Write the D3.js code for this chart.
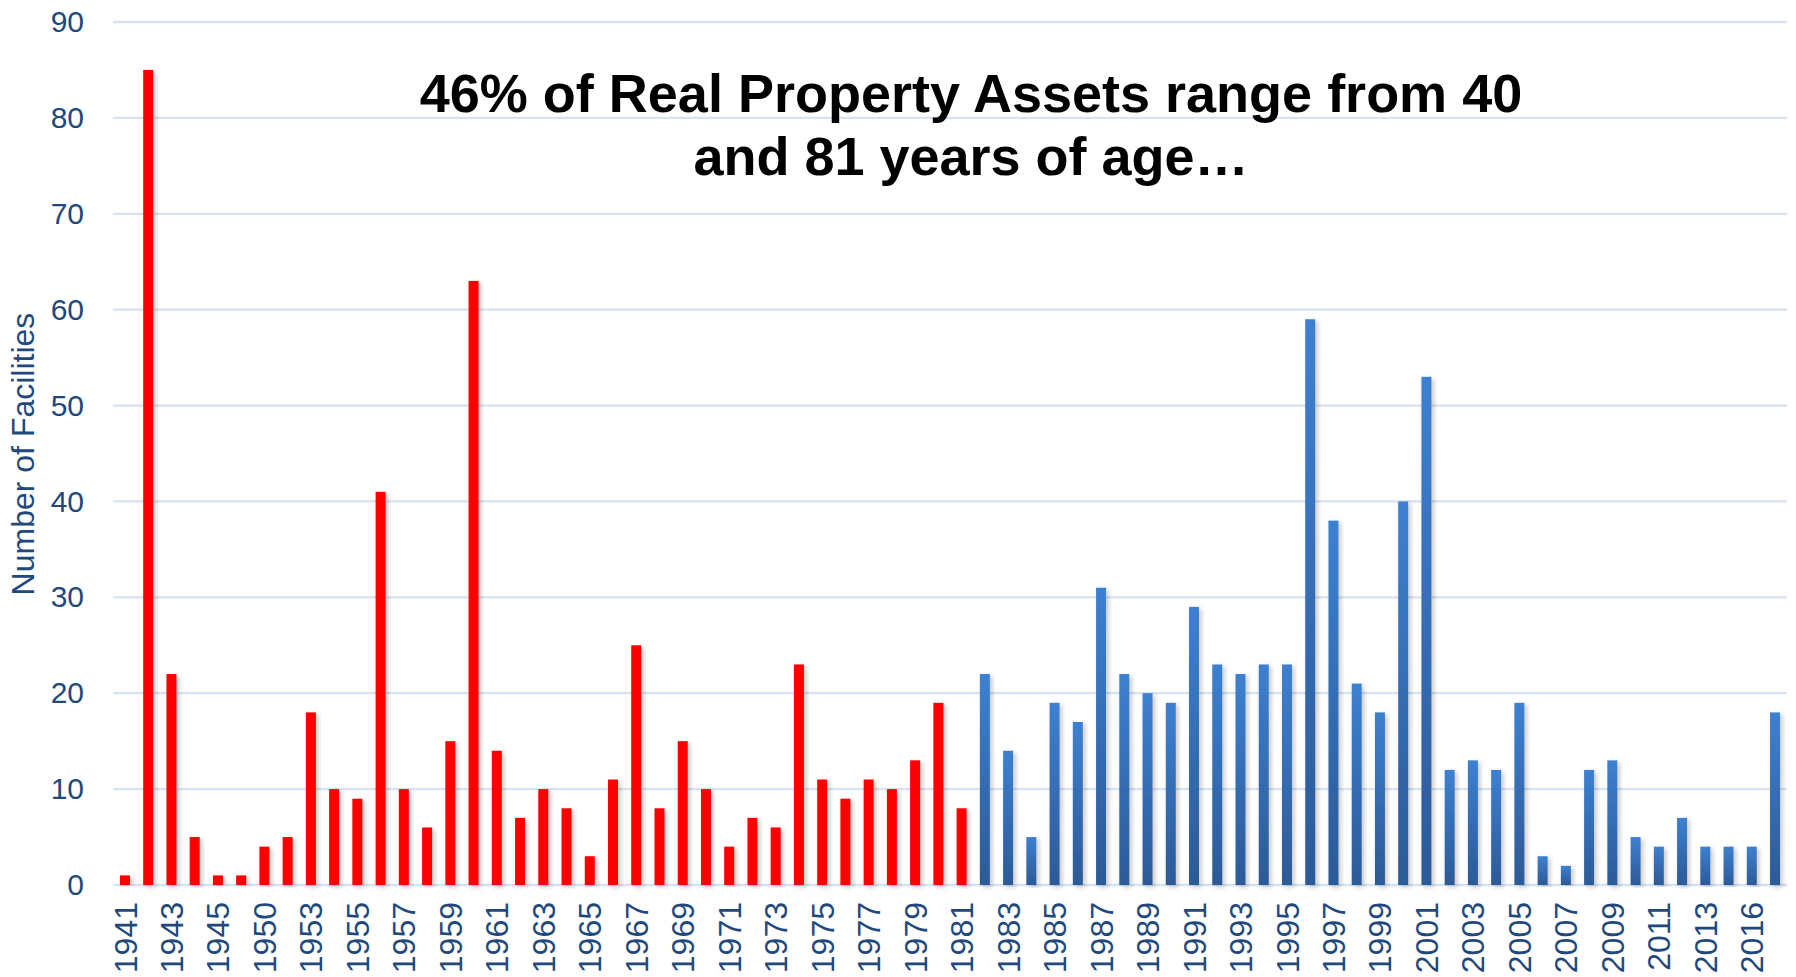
<!DOCTYPE html>
<html>
<head>
<meta charset="utf-8">
<script src="https://cdnjs.cloudflare.com/ajax/libs/d3/7.8.5/d3.min.js"></script>
<style>
  html, body { margin: 0; padding: 0; background: #fff; overflow: hidden; }
  svg { display: block; }
</style>
</head>
<body>
<svg id="chart" width="1796" height="977"></svg>
<script>
// years built (only years that have facilities)
var years = ['1941', '1942', '1943', '1944', '1945', '1946', '1950', '1951', '1953', '1954',
  '1955', '1956', '1957', '1958', '1959', '1960', '1961', '1962', '1963', '1964',
  '1965', '1966', '1967', '1968', '1969', '1970', '1971', '1972', '1973', '1974',
  '1975', '1976', '1977', '1978', '1979', '1980', '1981', '1982', '1983', '1984',
  '1985', '1986', '1987', '1988', '1989', '1990', '1991', '1992', '1993', '1994',
  '1995', '1996', '1997', '1998', '1999', '2000', '2001', '2002', '2003', '2004',
  '2005', '2006', '2007', '2008', '2009', '2010', '2011', '2012', '2013', '2014',
  '2016', '2017'];

var facilities = [1, 85, 22, 5, 1, 1, 4, 5, 18, 10,
  9, 41, 10, 6, 15, 63, 14, 7, 10, 8,
  3, 11, 25, 8, 15, 10, 4, 7, 6, 23,
  11, 9, 11, 10, 13, 19, 8, 22, 14, 5,
  19, 17, 31, 22, 20, 19, 29, 23, 22, 23,
  23, 59, 38, 21, 18, 40, 53, 12, 13, 12,
  19, 3, 2, 12, 13, 5, 4, 7, 4, 4,
  4, 18];

// last year drawn in red (40+ years old)
var lastOldYear = '1981';
var yTicks = [0, 10, 20, 30, 40, 50, 60, 70, 80, 90];
var titleLines = ['46% of Real Property Assets range from 40', 'and 81 years of age\u2026'];

var data = years.map(function (y, i) { return {year: y, value: facilities[i]}; });

var svg = d3.select('#chart'),
    margin = {top: 22, right: 9, bottom: 92, left: 113},
    width = +svg.attr('width') - margin.left - margin.right,
    height = +svg.attr('height') - margin.top - margin.bottom,
    g = svg.append('g').attr('transform', 'translate(' + margin.left + ',' + margin.top + ')');

var textColor = '#1F497D';
var font = '"Liberation Sans", Arial, sans-serif';

var defs = svg.append('defs');
var grad = defs.append('linearGradient')
  .attr('id', 'blueGrad')
  .attr('x1', 0).attr('y1', 0).attr('x2', 0).attr('y2', 1);
grad.append('stop').attr('offset', '0%').attr('stop-color', '#3D80D1');
grad.append('stop').attr('offset', '100%').attr('stop-color', '#2C5A97');

var shadow = defs.append('filter')
  .attr('id', 'shadow')
  .attr('x', '-50%').attr('y', '-5%').attr('width', '200%').attr('height', '110%');
shadow.append('feDropShadow')
  .attr('dx', 2.5).attr('dy', 2)
  .attr('stdDeviation', 2.5)
  .attr('flood-color', '#000')
  .attr('flood-opacity', 0.22);

var x = d3.scaleBand()
  .domain(years)
  .range([0, width])
  .paddingInner(0.57)
  .paddingOuter(0.3);

var y = d3.scaleLinear().domain([0, 90]).range([height, 0]);

// gridlines
g.append('g')
  .attr('class', 'grid')
  .selectAll('line')
  .data(yTicks)
  .enter()
  .append('line')
  .attr('x1', 0)
  .attr('x2', width)
  .attr('y1', function (d) { return y(d); })
  .attr('y2', function (d) { return y(d); })
  .style('stroke', '#D6E3F3')
  .style('stroke-width', 2.3);

// y axis
var yAxis = g.append('g')
  .call(d3.axisLeft(y).tickValues(yTicks).tickSize(0).tickPadding(29));
yAxis.select('.domain').remove();
yAxis.selectAll('text')
  .style('font', '30px ' + font)
  .attr('fill', textColor);

// x axis, every other year labelled
var xAxis = g.append('g')
  .attr('transform', 'translate(0,' + height + ')')
  .call(d3.axisBottom(x)
    .tickSize(0)
    .tickFormat(function (d, i) { return i % 2 === 0 ? d : ''; }));
xAxis.select('.domain').remove();
xAxis.selectAll('text')
  .attr('transform', 'rotate(-90)')
  .attr('x', -17)
  .attr('y', 0)
  .attr('dy', '0.36em')
  .style('text-anchor', 'end')
  .style('font', '32px ' + font)
  .attr('fill', textColor);

// bars
g.selectAll('.bar')
  .data(data)
  .enter()
  .append('rect')
  .attr('class', 'bar')
  .attr('x', function (d) { return x(d.year); })
  .attr('width', x.bandwidth())
  .attr('y', function (d) { return y(d.value); })
  .attr('height', function (d) { return height - y(d.value); })
  .attr('filter', 'url(#shadow)')
  .style('fill', function (d) { return +d.year <= +lastOldYear ? '#FF0000' : 'url(#blueGrad)'; });

// axis title
svg.append('text')
  .attr('transform', 'translate(34,454) rotate(-90)')
  .style('text-anchor', 'middle')
  .style('font', '32px ' + font)
  .attr('fill', textColor)
  .text('Number of Facilities');

// headline
svg.append('g')
  .selectAll('text')
  .data(titleLines)
  .enter()
  .append('text')
  .attr('x', 971)
  .attr('y', function (d, i) { return 112 + i * 63; })
  .style('text-anchor', 'middle')
  .style('font', 'bold 54px ' + font)
  .attr('fill', '#000')
  .text(function (d) { return d; });
</script>
</body>
</html>
